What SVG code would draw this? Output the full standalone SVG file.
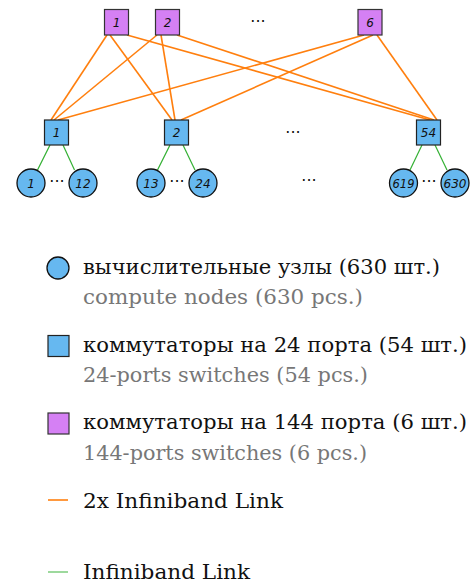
<svg xmlns="http://www.w3.org/2000/svg" width="474" height="583" viewBox="0 0 474 583">
<style>
.top{fill:#d580f4;stroke:#333;stroke-width:1.2}
.mid{fill:#66b8f0;stroke:#222;stroke-width:1.2}
.node{fill:#66b8f0;stroke:#111;stroke-width:1.3}
.o{stroke:#ff7f0e;stroke-width:1.6;fill:none}
.g{stroke:#33b033;stroke-width:1.2;fill:none}
</style>
<rect x="0" y="0" width="474" height="583" fill="#fff"/>
<g id="connectors">
<line class="o" x1="107" y1="35" x2="51" y2="120"/>
<line class="o" x1="110" y1="35" x2="172" y2="120"/>
<line class="o" x1="127" y1="35" x2="430" y2="120"/>
<line class="o" x1="157" y1="35" x2="54" y2="120"/>
<line class="o" x1="161" y1="35" x2="175" y2="120"/>
<line class="o" x1="177" y1="35" x2="434" y2="120"/>
<line class="o" x1="364" y1="35" x2="58" y2="120"/>
<line class="o" x1="373" y1="35" x2="181" y2="120"/>
<line class="o" x1="377" y1="35" x2="437" y2="120"/>
<line class="g" x1="50" y1="145" x2="37.5" y2="170"/>
<line class="g" x1="63" y1="145" x2="74.5" y2="170"/>
<line class="g" x1="170" y1="145" x2="157.5" y2="170"/>
<line class="g" x1="183" y1="145" x2="195" y2="170"/>
<line class="g" x1="422" y1="145" x2="410" y2="170"/>
<line class="g" x1="435" y1="145" x2="447" y2="170"/>
</g>
<g font-family="'DejaVu Sans', sans-serif" font-style="italic" font-size="12" fill="#111" text-anchor="middle">
<g id="top1"><rect class="top" x="104.5" y="9.5" width="24" height="25.5"/><text x="116.5" y="26.5">1</text></g>
<g id="top2"><rect class="top" x="155.5" y="9.5" width="24" height="25.5"/><text x="167.5" y="26.5">2</text></g>
<g id="top6"><rect class="top" x="358" y="9.5" width="24" height="25.5"/><text x="370" y="26.5">6</text></g>
<g id="sw1"><rect class="mid" x="44.5" y="120" width="24" height="25"/><text x="56.5" y="137">1</text></g>
<g id="sw2"><rect class="mid" x="164.5" y="120" width="24" height="25"/><text x="176.5" y="137">2</text></g>
<g id="sw54"><rect class="mid" x="416.5" y="120" width="24" height="25"/><text x="428.5" y="137">54</text></g>
<g id="n1"><circle class="node" cx="31" cy="183" r="14"/><text x="31" y="187.5">1</text></g>
<g id="n12"><circle class="node" cx="83" cy="183" r="14"/><text x="83" y="187.5">12</text></g>
<g id="n13"><circle class="node" cx="151" cy="183" r="14"/><text x="151" y="187.5">13</text></g>
<g id="n24"><circle class="node" cx="203" cy="183" r="14"/><text x="203" y="187.5">24</text></g>
<g id="n619"><circle class="node" cx="403.5" cy="183" r="14"/><text x="403.5" y="187.5" textLength="22" lengthAdjust="spacingAndGlyphs">619</text></g>
<g id="n630"><circle class="node" cx="455" cy="183" r="14"/><text x="455" y="187.5" textLength="23" lengthAdjust="spacingAndGlyphs">630</text></g>
</g>
<g font-family="'DejaVu Sans', sans-serif" font-size="16" fill="#111" text-anchor="middle">
<text x="258" y="27">···</text>
<text x="293" y="138">···</text>
<text x="57" y="187">···</text>
<text x="177" y="187">···</text>
<text x="309" y="186">···</text>
<text x="429" y="187">···</text>
</g>
<g id="legend" font-family="'DejaVu Serif', serif" font-size="20">
<circle class="node" cx="58" cy="268" r="11"/>
<text x="83" y="274" fill="#111" textLength="357" lengthAdjust="spacingAndGlyphs">вычислительные узлы (630 шт.)</text>
<text x="83" y="304" fill="#777" textLength="280" lengthAdjust="spacingAndGlyphs">compute nodes (630 pcs.)</text>
<rect class="mid" x="48" y="335.5" width="21" height="21"/>
<text x="83" y="352" fill="#111" textLength="384" lengthAdjust="spacingAndGlyphs">коммутаторы на 24 порта (54 шт.)</text>
<text x="83" y="382" fill="#777" textLength="285" lengthAdjust="spacingAndGlyphs">24-ports switches (54 pcs.)</text>
<rect class="top" x="48" y="413" width="21" height="21"/>
<text x="83" y="429" fill="#111" textLength="384" lengthAdjust="spacingAndGlyphs">коммутаторы на 144 порта (6 шт.)</text>
<text x="83" y="460" fill="#777" textLength="284" lengthAdjust="spacingAndGlyphs">144-ports switches (6 pcs.)</text>
<line class="o" x1="48" y1="500" x2="68" y2="500"/>
<text x="83" y="508" fill="#111" textLength="200" lengthAdjust="spacingAndGlyphs">2x Infiniband Link</text>
<line x1="48" y1="572" x2="68" y2="572" stroke="#5cc05c" stroke-width="1.2"/>
<text x="83" y="579" fill="#111" textLength="167" lengthAdjust="spacingAndGlyphs">Infiniband Link</text>
</g>
</svg>
